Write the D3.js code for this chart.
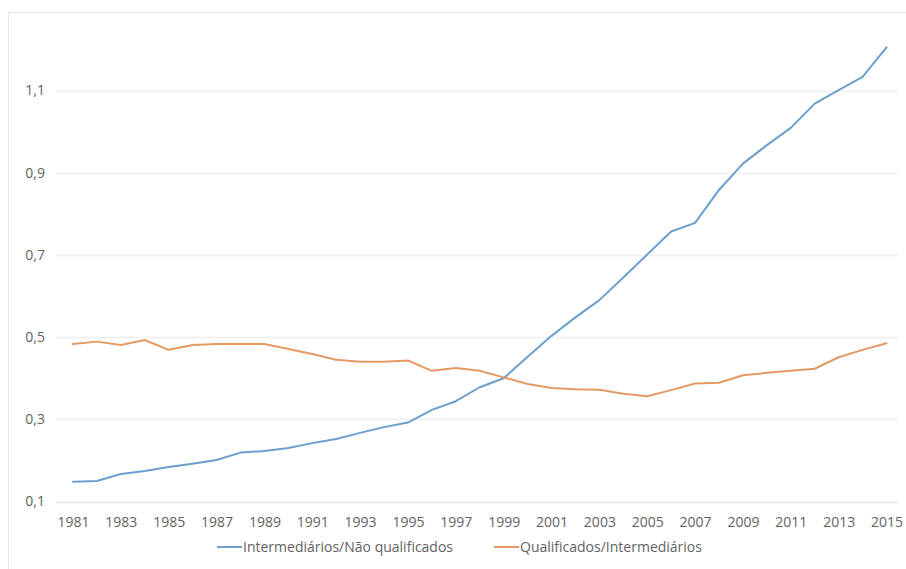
<!DOCTYPE html>
<html>
<head>
<meta charset="utf-8">
<script src="https://cdn.jsdelivr.net/npm/d3@7"></script>
<style>
  html, body { margin: 0; padding: 0; background: #fff; }
  svg { display: block; font-family: "Open Sans", "Noto Sans", sans-serif; }
</style>
</head>
<body>
<svg id="chart" width="906" height="569"></svg>
<script>
const years = d3.range(1981, 2016);
const seriesNames = ["Intermediários/Não qualificados", "Qualificados/Intermediários"];
const interNaoQual = [0.148, 0.150, 0.167, 0.174, 0.184, 0.192, 0.201, 0.219, 0.223, 0.230,
  0.242, 0.252, 0.267, 0.281, 0.292, 0.323, 0.344, 0.378, 0.400, 0.452,
  0.503, 0.548, 0.590, 0.645, 0.701, 0.757, 0.778, 0.858, 0.922, 0.967,
  1.009, 1.068, 1.101, 1.133, 1.205];
const qualInter = [0.483, 0.489, 0.481, 0.493, 0.469, 0.481, 0.483, 0.483, 0.483, 0.471,
  0.459, 0.445, 0.440, 0.440, 0.443, 0.418, 0.425, 0.418, 0.402, 0.386,
  0.376, 0.373, 0.372, 0.362, 0.356, 0.371, 0.387, 0.389, 0.407, 0.413,
  0.418, 0.423, 0.451, 0.469, 0.485];
const yTicks = [0.1, 0.3, 0.5, 0.7, 0.9, 1.1];
const xTickYears = years.filter(y => (y - 1981) % 2 === 0);

const colors = ["#6c9fd0", "#e59a63"];
const textColor = "#626262";

const svg = d3.select("#chart");
const W = 906, H = 569;

// chart border
svg.append("rect").attr("x", 8.5).attr("y", 12.5).attr("width", W + 10).attr("height", H + 10)
  .attr("fill", "none").attr("stroke", "#e6e6e6").attr("stroke-width", 1);

const x = d3.scalePoint().domain(years).range([73, 886.5]);
const y = d3.scaleLinear().domain([0.1, 1.1]).range([501.5, 90.5]);

// gridlines
svg.append("g").selectAll("line").data(yTicks).join("line")
  .attr("x1", 56).attr("x2", 898)
  .attr("y1", d => Math.round(y(d)) + 0.5).attr("y2", d => Math.round(y(d)) + 0.5)
  .attr("stroke", d => d === 0.1 ? "#e2e2e2" : "#efefef").attr("stroke-width", 1.5);

const fmt = d => d.toFixed(1).replace(".", ",");

// y axis labels
const yAxis = d3.axisLeft(y).tickValues(yTicks).tickFormat(fmt).tickSize(0).tickPadding(0);
const gy = svg.append("g").attr("transform", "translate(45,0)").call(yAxis);
gy.select(".domain").remove();
gy.selectAll("text").attr("fill", textColor).style("font-size", "14px")
  .style("font-family", "'Open Sans', 'Noto Sans', sans-serif");

// x axis labels
const xAxis = d3.axisBottom(x).tickValues(xTickYears).tickSize(0).tickPadding(0);
const gx = svg.append("g").attr("transform", "translate(0,517)").call(xAxis);
gx.select(".domain").remove();
gx.selectAll("text").attr("fill", textColor).style("font-size", "14px")
  .style("font-family", "'Open Sans', 'Noto Sans', sans-serif");

// lines
const line = d3.line().x((d, i) => x(years[i])).y(d => y(d));
[interNaoQual, qualInter].forEach((s, i) => {
  svg.append("path").datum(s).attr("d", line)
    .attr("fill", "none").attr("stroke", colors[i]).attr("stroke-width", 2)
    .attr("stroke-linejoin", "round").attr("stroke-linecap", "round");
});

// legend
const legendItems = [
  { name: seriesNames[0], color: colors[0], x: 217 },
  { name: seriesNames[1], color: colors[1], x: 494 }
];
const lg = svg.append("g");
legendItems.forEach(it => {
  lg.append("line").attr("x1", it.x).attr("x2", it.x + 25).attr("y1", 547).attr("y2", 547)
    .attr("stroke", it.color).attr("stroke-width", 2);
  lg.append("text").attr("x", it.x + 26).attr("y", 552).text(it.name)
    .attr("fill", textColor).style("font-size", "14px");
});
</script>
</body>
</html>
